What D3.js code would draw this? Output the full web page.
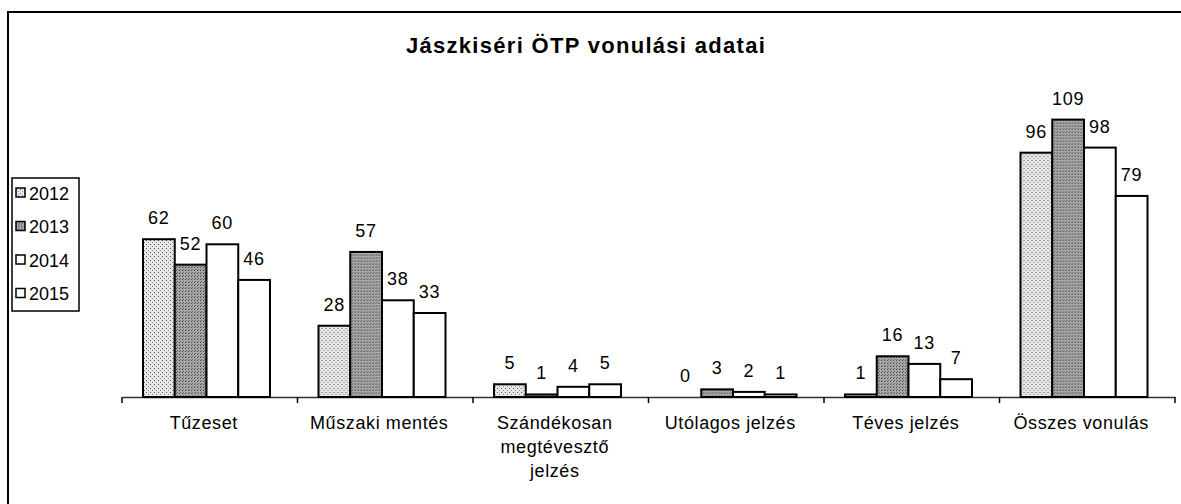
<!DOCTYPE html>
<html>
<head>
<meta charset="utf-8"/>
<title>Jászkiséri ÖTP vonulási adatai</title>
<style>
  body { margin: 0; background: #fff; }
  svg { display: block; font-family: Arial, "Liberation Sans", sans-serif; }
</style>
</head>
<body>
<svg id="viz" width="1181" height="504"></svg>
<script src="https://cdn.jsdelivr.net/npm/d3@7"></script>
<script>
// Datos
var kategoriak = ["Tűzeset", "Műszaki mentés", "Szándékosan megtévesztő jelzés", "Utólagos jelzés", "Téves jelzés", "Összes vonulás"];
var cimkeSorok = [["Tűzeset"], ["Műszaki mentés"], ["Szándékosan", "megtévesztő", "jelzés"], ["Utólagos jelzés"], ["Téves jelzés"], ["Összes vonulás"]];
var evek = ["2012", "2013", "2014", "2015"];
var ertek2012 = [62, 28, 5, 0, 1, 96];
var ertek2013 = [52, 57, 1, 3, 16, 109];
var ertek2014 = [60, 38, 4, 2, 13, 98];
var ertek2015 = [46, 33, 5, 1, 7, 79];
var sorozatok = [ertek2012, ertek2013, ertek2014, ertek2015];

var svg = d3.select("#viz");

// minták (pontozott kitöltés)
var defs = svg.append("defs");
var p1 = defs.append("pattern").attr("id", "p2012").attr("width", 4).attr("height", 4).attr("patternUnits", "userSpaceOnUse");
p1.append("rect").attr("width", 4).attr("height", 4).attr("fill", "#e6e6e6");
p1.append("rect").attr("x", 0).attr("y", 0).attr("width", 1).attr("height", 1).attr("fill", "#555");
p1.append("rect").attr("x", 2).attr("y", 2).attr("width", 1).attr("height", 1).attr("fill", "#888");
var p2 = defs.append("pattern").attr("id", "p2013").attr("width", 3).attr("height", 3).attr("patternUnits", "userSpaceOnUse");
p2.append("rect").attr("width", 3).attr("height", 3).attr("fill", "#a8a8a8");
p2.append("rect").attr("x", 0).attr("y", 0).attr("width", 1).attr("height", 1).attr("fill", "#444");
p2.append("rect").attr("x", 1).attr("y", 2).attr("width", 1).attr("height", 1).attr("fill", "#666");

var szinek = d3.scaleOrdinal().domain(evek).range(["url(#p2012)", "url(#p2013)", "#fff", "#fff"]);

// keret
svg.append("path")
  .attr("d", "M8,504 L8,12 L1181,12")
  .attr("fill", "none").attr("stroke", "#000").attr("stroke-width", 2);

// cím
svg.append("text")
  .attr("x", 586).attr("y", 53)
  .attr("text-anchor", "middle")
  .attr("font-size", "22px").attr("font-weight", "bold")
  .attr("letter-spacing", "1.3px")
  .text("Jászkiséri ÖTP vonulási adatai");

// skálák
var x0 = d3.scaleBand().domain(kategoriak).range([122, 1175]).paddingInner(0).paddingOuter(0);
var x1 = d3.scaleBand().domain(evek).range([21, 21 + 127]);
var y = d3.scaleLinear().domain([0, 120]).range([397, 91.6]);

// tengely
var tengely = svg.append("g").attr("transform", "translate(0,397)")
  .call(d3.axisBottom(x0).tickSize(0).tickFormat(""));
tengely.select(".domain").attr("stroke", "#333").attr("stroke-width", 1.5);
var hatarok = [122].concat(kategoriak.map(function (k) { return x0(k) + x0.bandwidth(); }));
tengely.selectAll(".hatar").data(hatarok).enter().append("line")
  .attr("class", "hatar")
  .attr("x1", function (d) { return d; }).attr("x2", function (d) { return d; })
  .attr("y1", 0).attr("y2", 6)
  .attr("stroke", "#000").attr("stroke-width", 1.5);

// oszlopok
var csoport = svg.selectAll(".csoport").data(kategoriak).enter().append("g")
  .attr("class", "csoport")
  .attr("transform", function (k) { return "translate(" + x0(k) + ",0)"; });

csoport.selectAll("rect")
  .data(function (k, i) { return evek.map(function (ev, j) { return { ev: ev, v: sorozatok[j][i] }; }); })
  .enter().append("rect")
  .attr("x", function (d) { return x1(d.ev); })
  .attr("y", function (d) { return y(d.v); })
  .attr("width", x1.bandwidth())
  .attr("height", function (d) { return y(0) - y(d.v); })
  .attr("fill", function (d) { return szinek(d.ev); })
  .attr("stroke", "#000")
  .attr("stroke-width", function (d) { return d.v > 0 ? 2 : 0; });

csoport.selectAll(".ertek")
  .data(function (k, i) { return evek.map(function (ev, j) { return { ev: ev, v: sorozatok[j][i] }; }); })
  .enter().append("text")
  .attr("class", "ertek")
  .attr("x", function (d) { return x1(d.ev) + x1.bandwidth() / 2; })
  .attr("y", function (d) { return y(d.v) - 15; })
  .attr("text-anchor", "middle")
  .attr("font-size", "18px")
  .attr("letter-spacing", "0.8px")
  .text(function (d) { return d.v; });

// kategória feliratok
csoport.append("text")
  .attr("x", x0.bandwidth() / 2 - 6)
  .attr("y", 429)
  .attr("text-anchor", "middle")
  .attr("font-size", "18px")
  .attr("letter-spacing", "0.6px")
  .selectAll("tspan")
  .data(function (k, i) { return cimkeSorok[i]; })
  .enter().append("tspan")
  .attr("x", x0.bandwidth() / 2 - 6)
  .attr("dy", function (d, i) { return i === 0 ? 0 : 24; })
  .text(function (d) { return d; });

// jelmagyarázat
var jm = svg.append("g");
jm.append("rect").attr("x", 12).attr("y", 178).attr("width", 67).attr("height", 133)
  .attr("fill", "#fff").attr("stroke", "#000").attr("stroke-width", 1.5);
var jmSor = jm.selectAll(".jm").data(evek).enter().append("g")
  .attr("transform", function (d, i) { return "translate(0," + (193 + i * 33.5) + ")"; });
jmSor.append("rect").attr("x", 16).attr("y", -5).attr("width", 9).attr("height", 9)
  .attr("fill", function (d) { return szinek(d); }).attr("stroke", "#000").attr("stroke-width", 1.5);
jmSor.append("text").attr("x", 29).attr("y", 6.5).attr("font-size", "18px").text(function (d) { return d; });
</script>
</body>
</html>
